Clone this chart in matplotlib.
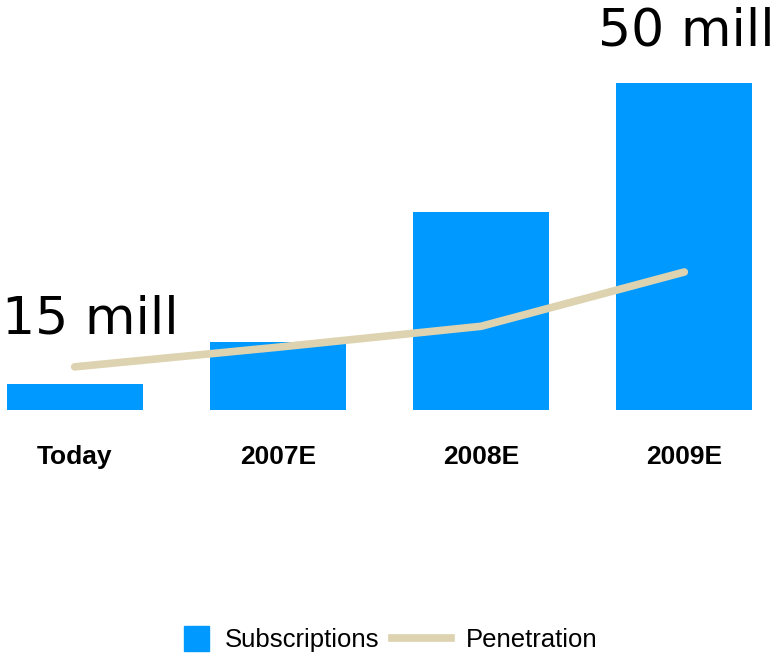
import matplotlib
matplotlib.use('Agg')
import matplotlib.pyplot as plt
from matplotlib.patches import Patch, Rectangle
from matplotlib.lines import Line2D
from matplotlib.legend_handler import HandlerPatch

# datos
categorias = ['Today', '2007E', '2008E', '2009E']
suscripciones = [4.0, 10.4, 30.3, 50.0]
penetracion = [6.6, 9.6, 12.8, 21.1]

azul = '#0099FF'
beige = '#DDD3B0'

fig = plt.figure(figsize=(7.75, 6.55), dpi=100)
ax = fig.add_axes([7 / 775, 245 / 655, 745 / 775, 327 / 655])

x = range(len(categorias))
ax.bar(x, suscripciones, width=0.67, color=azul)
ax.plot(x, penetracion, color=beige, linewidth=5.5, solid_capstyle='round')

ax.set_xlim(-0.333, 3.333)
ax.set_ylim(0, 50)
ax.set_xticks(list(x))
ax.set_xticklabels(categorias, fontsize=19, fontweight='bold',
                   family=['Liberation Sans Narrow', 'Liberation Sans'])
ax.tick_params(axis='x', length=0, pad=25)
ax.set_yticks([])
for s in ax.spines.values():
    s.set_visible(False)

# etiquetas grandes
fig.text(2 / 775, 1 - 334 / 655, '15 mill', fontsize=37.5, color='black',
         family='DejaVu Sans', ha='left', va='baseline')
fig.text(775 / 775, 1 - 45 / 655, '50 mill', fontsize=37.5, color='black',
         family='DejaVu Sans', ha='right', va='baseline')


# cuadrado para la leyenda
def cuadrado(legend, orig_handle, xdescent, ydescent, width, height, fontsize):
    lado = 18
    return Rectangle((-xdescent + width - lado, -ydescent + (height - lado) / 2), lado, lado)


handles = [Patch(color=azul, label='Subscriptions'),
           Line2D([0], [0], color=beige, linewidth=5.5, label='Penetration')]
fig.legend(handles=handles, loc='center', bbox_to_anchor=(374 / 775, 1 - 640 / 655),
           ncol=2, frameon=False, handlelength=2.3, handleheight=0.7,
           prop={'family': 'Liberation Sans', 'size': 18.5}, columnspacing=0.5,
           handletextpad=0.6, handler_map={Patch: HandlerPatch(patch_func=cuadrado)})

plt.savefig('out.png', dpi=100)
plt.close()
